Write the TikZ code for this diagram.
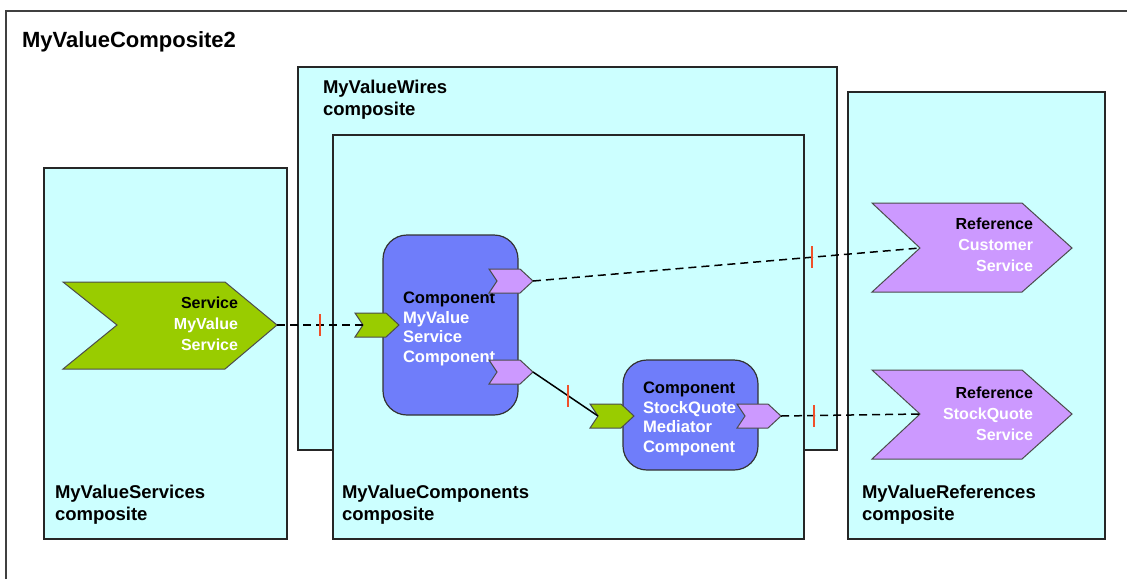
\documentclass[tikz,border=0pt]{standalone}
\usepackage{fontspec}
\setmainfont{Liberation Sans}
\definecolor{boxcyan}{HTML}{CCFFFF}
\definecolor{svcgreen}{HTML}{99CC00}
\definecolor{refpurple}{HTML}{CC99FF}
\definecolor{compblue}{HTML}{6F7DFA}
\definecolor{markred}{HTML}{F0502A}
\begin{document}
\begin{tikzpicture}[x=0.5pt,y=-0.5pt,inner sep=0pt,outer sep=0pt,
frame/.style={draw=black!75,line width=1pt},
box/.style={draw=black!85,fill=boxcyan,line width=0.75pt},
boxlabel/.style={anchor=west,align=left,font=\fontsize{9.25}{11}\selectfont\bfseries},
comp/.style={draw=black!80,fill=compblue,rounded corners=12pt,line width=0.6pt,minimum width=67.5pt},
comptext/.style={anchor=west,align=left,text=white,font=\fontsize{8.3}{9.9}\selectfont\bfseries},
chevron/.style={draw=black!70,line width=0.5pt},
shapetext/.style={anchor=east,align=right,text=white,font=\fontsize{8}{10.5}\selectfont\bfseries},
port/.style={draw=black!70,line width=0.5pt},
wire/.style={line width=0.75pt},
wiremark/.style={fill=markred,minimum width=1pt,minimum height=11pt}]

\useasboundingbox (0,0) rectangle (1127,579);
\draw[frame] (6,579) -- (6,11) -- (1127,11);
\node[anchor=west,font=\fontsize{11}{13}\selectfont\bfseries] (title) at (22,42) {MyValueComposite2};

% composites
\draw[box] (44,168) rectangle (287,539);
\node[boxlabel] (svclabel) at (55,505) {MyValueServices\\composite};
\draw[box] (298,67) rectangle (837,450);
\node[boxlabel] (wirelabel) at (323,100) {MyValueWires\\composite};
\draw[box] (333,135) rectangle (804,539);
\node[boxlabel] (complabel) at (342,505) {MyValueComponents\\composite};
\draw[box] (848,92) rectangle (1105,539);
\node[boxlabel] (reflabel) at (862,505) {MyValueReferences\\composite};

% service and references
\draw[chevron,fill=svcgreen] (63,282) -- (225,282) -- (277,325) -- (225,369) -- (63,369) -- (117,325) -- cycle;
\coordinate (svcout) at (277,325);
\node[shapetext] (svctext) at (238,324) {\textcolor{black}{Service}\\MyValue\\Service};

\draw[chevron,fill=refpurple] (872,203) -- (1022,203) -- (1072,248) -- (1022,292) -- (872,292) -- (920,248) -- cycle;
\coordinate (custin) at (920,248);
\node[shapetext] (custtext) at (1033,245) {\textcolor{black}{Reference}\\Customer\\Service};

\draw[chevron,fill=refpurple] (872,370) -- (1022,370) -- (1072,414) -- (1022,459) -- (872,459) -- (920,414) -- cycle;
\coordinate (quotein) at (920,414);
\node[shapetext] (quotetext) at (1033,414) {\textcolor{black}{Reference}\\StockQuote\\Service};

% components
\node[comp,minimum height=90pt] (mvc) at (450.5,325) {};
\node[comptext] (mvctext) at (403,329) {\textcolor{black}{Component}\\MyValue\\Service\\Component};
\node[comp,minimum height=55pt] (sqm) at (690.5,415) {};
\node[comptext] (sqmtext) at (643,419) {\textcolor{black}{Component}\\StockQuote\\Mediator\\Component};

% ports
\foreach \px/\py/\pc/\pn in {355/325/svcgreen/mvcsvc, 489/281/refpurple/mvcref1, 489/372/refpurple/mvcref2,
  590/416/svcgreen/sqmsvc, 737/416/refpurple/sqmref}{
  \draw[port,fill=\pc] (\px,\py) ++(0,-12) -- ++(31,0) -- ++(13,12) -- ++(-13,12) -- ++(-31,0) -- ++(8,-12) -- cycle;
  \coordinate (\pn-in) at (\px+8,\py);
  \coordinate (\pn-out) at (\px+44,\py);
}

% wires
\draw[wire,dash pattern=on 4pt off 2.5pt] (svcout) -- node[wiremark,pos=0.5] (mark1) {} (mvcsvc-in);
\draw[wire,dash pattern=on 4pt off 2.5pt] (mvcref1-out) -- node[wiremark,pos=0.72] (mark2) {} (custin);
\draw[wire] (mvcref2-out) -- node[wiremark,pos=0.54] (mark3) {} (sqmsvc-in);
\draw[wire,dash pattern=on 4pt off 2.5pt] (sqmref-out) -- node[wiremark,pos=0.24] (mark4) {} (quotein);

\end{tikzpicture}
\end{document}
